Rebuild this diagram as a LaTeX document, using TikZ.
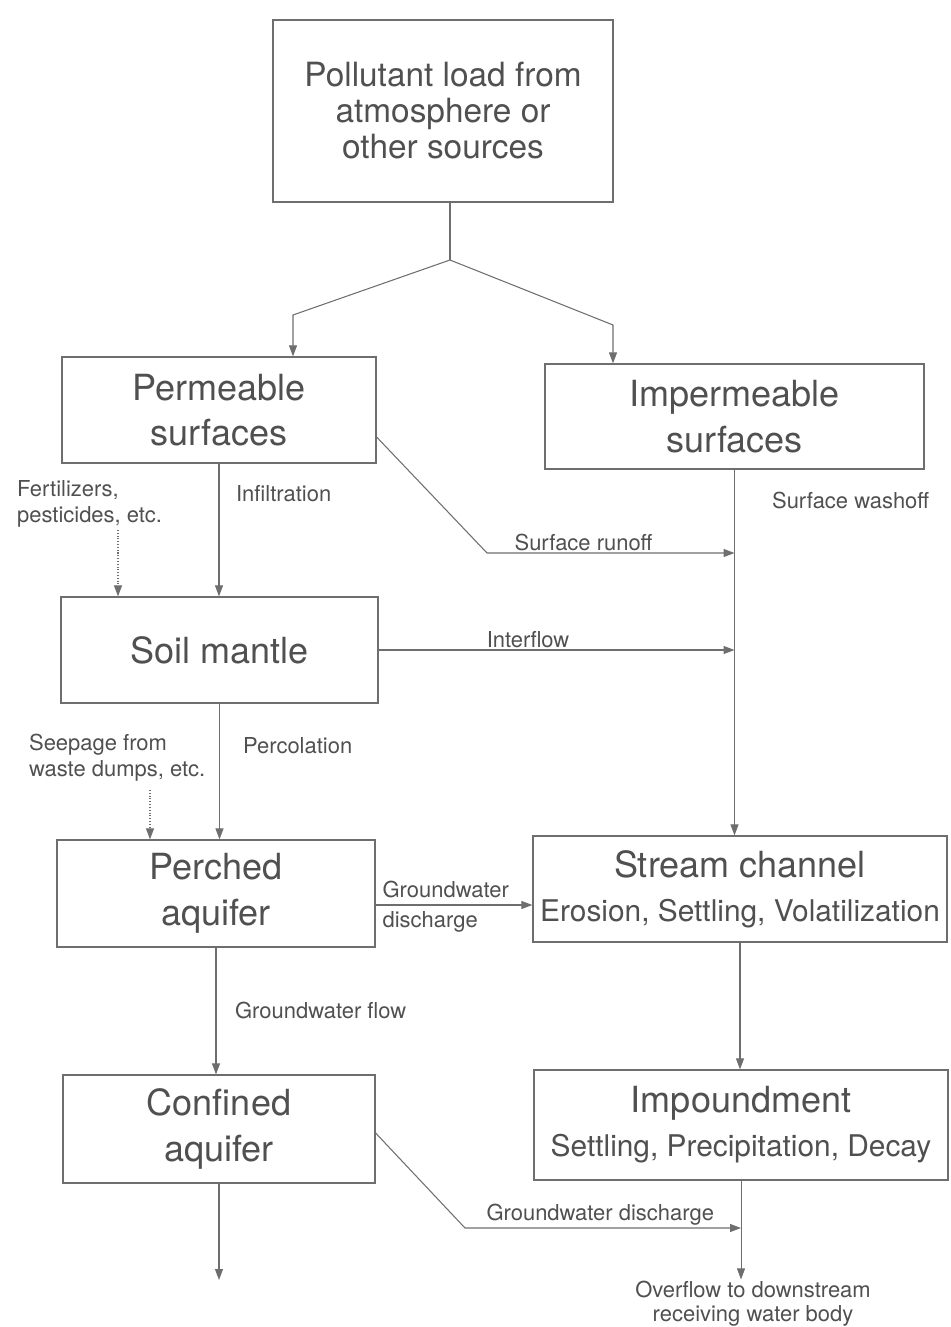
\documentclass[tikz,border=0pt]{standalone}
\usepackage{fontspec}
\setmainfont{TeX Gyre Heros}
\usetikzlibrary{arrows.meta, positioning}
\definecolor{ink}{HTML}{505050}
\definecolor{wire}{HTML}{6E6E6E}

\begin{document}
\begin{tikzpicture}[
box/.style={draw=wire, line width=0.7pt, align=center, inner sep=0pt, text=ink, font=\fontsize{20.5}{26}\selectfont},
lbl/.style={text=ink, font=\fontsize{12.5}{15}\selectfont, inner sep=1pt},
line/.style={draw=wire, line width=0.6pt},
arrow/.style={line, -{Triangle[length=2.2mm, width=1.6mm]}},
dotarrow/.style={arrow, densely dotted}
]
\useasboundingbox (0,0) rectangle (19,-26.54);

\node[box, minimum width=6.8cm, minimum height=3.64cm, font=\fontsize{19}{20.5}\selectfont] (load) at (8.86,-2.22) {Pollutant load from\\atmosphere or\\other sources};

\node[box, minimum width=6.28cm, minimum height=2.12cm] (perm) at (4.38,-8.2) {Permeable\\surfaces};
\node[box, minimum width=7.58cm, minimum height=2.1cm] (imperm) at (14.69,-8.33) {Impermeable\\surfaces};

\node[box, minimum width=6.34cm, minimum height=2.12cm] (soil) at (4.39,-13.0) {Soil mantle};

\node[box, minimum width=6.36cm, minimum height=2.14cm] (perched) at (4.32,-17.87) {Perched\\aquifer};
\node[box, minimum width=8.28cm, minimum height=2.12cm, font=\fontsize{17}{25}\selectfont] (stream) at (14.8,-17.78) {{\fontsize{20.5}{25}\selectfont Stream channel}\\Erosion, Settling, Volatilization};

\node[box, minimum width=6.24cm, minimum height=2.16cm] (confined) at (4.38,-22.58) {Confined\\aquifer};
\node[box, minimum width=8.28cm, minimum height=2.2cm, font=\fontsize{17}{25}\selectfont] (impound) at (14.82,-22.5) {{\fontsize{20.5}{25}\selectfont Impoundment}\\Settling, Precipitation, Decay};

\node[lbl, anchor=west, align=left] (fert) at (0.3,-10.08) {Fertilizers,\\pesticides, etc.};
\node[lbl, anchor=west] (infil) at (4.68,-9.88) {Infiltration};
\node[lbl, anchor=west] (washoff) at (15.4,-10.0) {Surface washoff};
\node[lbl, anchor=west, align=left] (seep) at (0.54,-15.16) {Seepage from\\waste dumps, etc.};
\node[lbl, anchor=west] (perc) at (4.82,-14.92) {Percolation};
\node[lbl, anchor=west] (gwflow) at (4.66,-20.2) {Groundwater flow};
\node[lbl, align=center, font=\fontsize{12.5}{13.5}\selectfont] (overflow) at (15.06,-26.08) {Overflow to downstream\\receiving water body};

\coordinate (fork) at (9.0,-5.2);
\coordinate (lbend) at (5.86,-6.3);
\coordinate (rbend) at (12.26,-6.5);
\coordinate (fertin) at (2.36,-10.6);
\coordinate (runoff) at (9.74,-11.06);
\coordinate (seepin) at (3.0,-15.8);
\coordinate (gwbend) at (9.3,-24.56);
\coordinate (deep) at (4.44,-25.6);

\draw[line] (load.south -| fork) -- (fork);
\draw[arrow] (fork) -- (lbend) -- (lbend |- perm.north);
\draw[arrow] (fork) -- (rbend) -- (rbend |- imperm.north);

\draw[arrow] (perm.south) -- (perm.south |- soil.north);
\draw[dotarrow] (fertin) -- (fertin |- soil.north);
\draw[arrow] ([yshift=-5.4mm]perm.east) -- (runoff) -- node[lbl, above, pos=0.39] {Surface runoff} (runoff -| imperm.south);
\draw[arrow] (imperm.south) -- (imperm.south |- stream.north);
\draw[arrow] (soil.east) -- node[lbl, above, pos=0.42] {Interflow} (soil.east -| imperm.south);

\draw[arrow] (soil.south) -- (soil.south |- perched.north);
\draw[dotarrow] (seepin) -- (seepin |- perched.north);
\draw[arrow] ([yshift=-2.3mm]perched.east) -- node[lbl, anchor=south west, pos=0.03, yshift=3pt] {Groundwater} node[lbl, anchor=north west, pos=0.03, yshift=-2.5pt] {discharge} ([yshift=-2.3mm]perched.east -| stream.west);

\draw[arrow] (perched.south) -- (perched.south |- confined.north);
\draw[arrow] (stream.south) -- (stream.south |- impound.north);

\draw[arrow] (confined.south) -- (confined.south |- deep);
\draw[arrow] ([yshift=-0.8mm]confined.east) -- (gwbend) -- node[lbl, above, pos=0.49] {Groundwater discharge} (gwbend -| impound.south);
\draw[arrow, line width=0.45pt] (impound.south) -- (impound.south |- overflow.north);

\end{tikzpicture}
\end{document}
